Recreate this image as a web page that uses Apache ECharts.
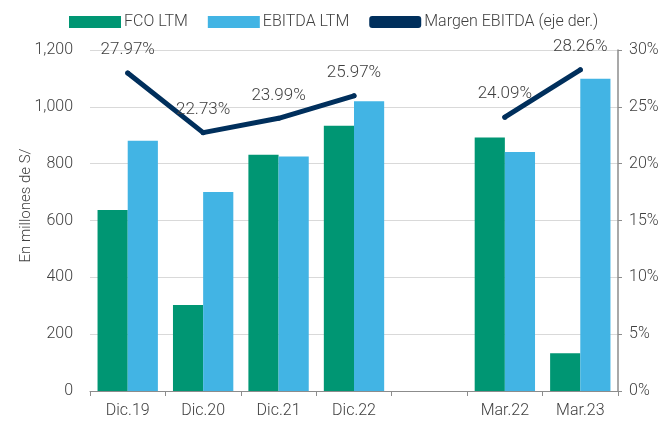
<!DOCTYPE html>
<html>
<head>
<meta charset="utf-8">
<script src="https://cdn.jsdelivr.net/npm/echarts@6/dist/echarts.min.js"></script>
<style>
  html, body { margin: 0; padding: 0; background: #fff; }
  #chart { width: 671px; height: 428px; }
</style>
</head>
<body>
<div id="chart"></div>
<script>
  // datos
  const categories = ['Dic.19', 'Dic.20', 'Dic.21', 'Dic.22', '', 'Mar.22', 'Mar.23']
  const fco = [637, 303, 831, 933, null, 892, 133]
  const ebitda = [881, 700, 825, 1020, null, 841, 1099]
  const margen = [27.97, 22.73, 23.99, 25.97, null, 24.09, 28.26]

  const txt = '#404040'
  const font = 'Roboto'
  const fw = 300

  const chart = echarts.init(document.getElementById('chart'))
  chart.setOption({
    animation: false,
    textStyle: { fontFamily: font, fontWeight: fw },
    legend: {
      top: 9,
      left: 64,
      itemWidth: 52,
      itemHeight: 12,
      itemGap: 20,
      textStyle: { fontSize: 16, color: txt, fontFamily: font, fontWeight: fw, padding: [0, 0, 0, -2] },
      data: [
        { name: 'FCO LTM', icon: 'rect' },
        { name: 'EBITDA LTM', icon: 'rect' },
        { name: 'Margen EBITDA (eje der.)', icon: 'roundRect', itemStyle: { color: '#002f5c' } }
      ]
    },
    grid: {
      left: 90,
      right: 53,
      top: 50,
      bottom: 37
    },
    xAxis: {
      type: 'category',
      data: categories,
      axisLine: { lineStyle: { color: '#8c8c8c', width: 1 } },
      axisTick: { show: true, interval: 0, length: 5, lineStyle: { color: '#8c8c8c' } },
      axisLabel: { color: txt, fontSize: 16, margin: 12, interval: 0, fontFamily: font, fontWeight: fw }
    },
    yAxis: [
      {
        type: 'value',
        min: 0,
        max: 1200,
        interval: 200,
        name: 'En millones de S/',
        nameLocation: 'middle',
        nameGap: 56,
        nameMoveOverlap: false,
        nameTextStyle: { color: txt, fontSize: 15, fontFamily: font, fontWeight: fw, padding: [0, 0, 0, 30] },
        axisLine: { show: false },
        axisTick: { show: false },
        axisLabel: {
          color: txt, fontSize: 16, margin: 17, fontFamily: font, fontWeight: fw,
          formatter: v => v.toLocaleString('en-US')
        },
        splitLine: { lineStyle: { color: '#d9d9d9', width: 1 } }
      },
      {
        type: 'value',
        min: 0,
        max: 30,
        interval: 5,
        position: 'right',
        axisLine: { show: true, lineStyle: { color: '#8c8c8c', width: 1.5 } },
        axisTick: { show: true, length: 4, lineStyle: { color: '#8c8c8c' } },
        axisLabel: { color: txt, fontSize: 16, margin: 11, fontFamily: font, fontWeight: fw, formatter: '{value}%' },
        splitLine: { show: false }
      }
    ],
    series: [
      {
        name: 'FCO LTM',
        type: 'bar',
        data: fco,
        barGap: 0,
        barCategoryGap: '20%',
        itemStyle: { color: '#009673' }
      },
      {
        name: 'EBITDA LTM',
        type: 'bar',
        data: ebitda,
        itemStyle: { color: '#42b4e4' }
      },
      {
        name: 'Margen EBITDA (eje der.)',
        type: 'line',
        yAxisIndex: 1,
        data: margen,
        symbol: 'circle',
        symbolSize: 5,
        itemStyle: { color: '#002f5c' },
        lineStyle: { color: '#002f5c', width: 5, cap: 'round', join: 'round' },
        label: {
          show: true,
          position: 'top',
          distance: 12,
          color: txt,
          fontSize: 17,
          fontFamily: font,
          fontWeight: fw,
          formatter: p => p.value.toFixed(2) + '%'
        },
        z: 5
      }
    ]
  })
</script>
</body>
</html>
